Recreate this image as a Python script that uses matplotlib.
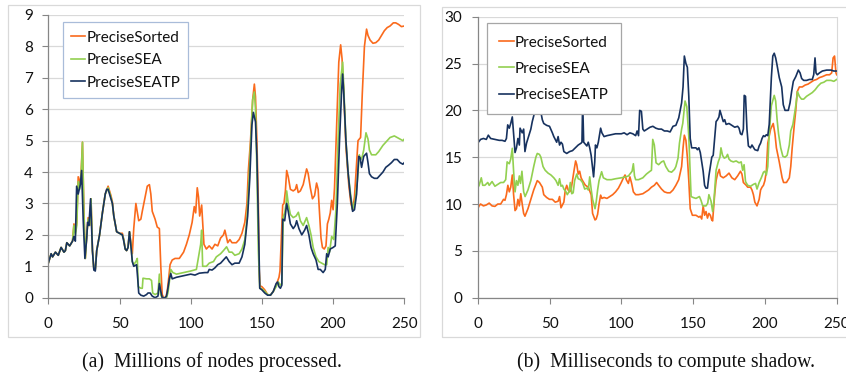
import matplotlib
matplotlib.use("Agg")
import matplotlib.pyplot as plt
from matplotlib.patches import Rectangle

# ---------------- data: left panel (millions of nodes processed) ----------------
common_x = [0, 2, 3, 5, 7, 9, 11, 12, 13, 15, 17]
common_y = [1.1, 1.4, 1.3, 1.45, 1.35, 1.6, 1.45, 1.5, 1.75, 1.65, 1.8]

a_sorted_x = [18, 19, 20, 21, 22, 23, 24, 25, 26, 27, 28, 29, 30, 31, 32, 33, 34, 36, 38, 40, 42, 44, 45, 46, 48,
              50, 52, 53, 54, 55, 56, 57, 58, 59, 60, 61.5, 63.5, 65, 66, 68, 69.5, 71, 72, 73, 75, 76.5, 78, 79,
              80, 81, 82.5, 83.5, 84.5, 85.5, 87, 89, 92, 95, 97, 99, 101, 102.5, 103.5, 104.6, 105.5, 106.3,
              107.7, 109.3, 111, 113, 115, 117, 119, 121, 123, 124, 125, 126, 127.5, 129, 132, 134, 136, 138,
              139.5, 140.5, 142, 143.5, 144.7, 145.5, 146.5, 147.5, 148, 148.6, 150, 152, 154, 156, 158, 160, 162,
              162.7, 164.6, 165.5, 166.5, 167.4, 168.5, 170, 172, 173.5, 174.4, 175.5, 177, 179, 181.4, 182.5,
              184, 185.5, 187, 188.4, 189.5, 190.5, 191.5, 192.5, 193.8, 195, 196, 197, 198, 199, 200, 201,
              202.5, 204, 205.3, 206.3, 207.5, 209, 211, 212.5, 213.7, 215, 216.5, 217.5, 218.4, 219.3, 220.5,
              222, 223.5, 224.5, 226, 228, 230, 232, 234, 236, 238, 240, 242.3, 244, 246, 248, 250]
a_sorted_y = [2.35, 2.1, 2.4, 3.85, 3.6, 3.95, 4.95, 2.8, 1.25, 2.0, 2.55, 2.3, 3.15, 1.5, 0.9, 0.9, 1.5, 2.0, 2.7,
              3.3, 3.55, 3.25, 3.05, 2.6, 2.1, 2.05, 2.05, 1.85, 1.55, 1.5, 1.6, 2.1, 1.75, 1.4, 2.2, 3.0, 2.45,
              2.5, 2.75, 3.2, 3.55, 3.6, 3.3, 2.75, 2.5, 2.25, 2.2, 1.0, 0.1, 0.0, 0.0, 0.2, 0.6, 1.05, 1.2, 1.25,
              1.25, 1.45, 1.7, 2.0, 2.4, 2.9, 2.7, 3.5, 3.2, 2.6, 2.95, 1.7, 1.55, 1.65, 1.55, 1.7, 1.65, 1.9, 2.0,
              2.15, 1.95, 1.75, 1.85, 1.75, 1.75, 1.85, 2.05, 2.4, 3.0, 4.05, 5.0, 6.3, 6.8, 6.4, 5.0, 3.0, 1.0,
              0.38, 0.35, 0.25, 0.1, 0.08, 0.2, 0.4, 0.65, 0.85, 2.95, 3.0, 3.4, 4.05, 3.85, 3.45, 3.4, 3.45, 3.6,
              3.35, 3.4, 3.6, 4.1, 3.95, 3.5, 3.15, 3.25, 3.65, 3.45, 2.7, 1.9, 1.6, 1.55, 1.65, 2.35, 2.5, 2.7,
              3.1, 2.8, 3.5, 5.5, 7.5, 8.05, 7.6, 6.5, 4.8, 3.6, 3.0, 2.8, 3.2, 4.3, 5.0, 5.05, 5.1, 6.5, 8.0,
              8.55, 8.35, 8.2, 8.1, 8.12, 8.2, 8.35, 8.5, 8.6, 8.65, 8.75, 8.75, 8.7, 8.63, 8.65]

a_sea_x = [18, 19, 20, 21, 22, 23, 24, 25, 26, 27, 28, 29, 30, 31, 32, 33, 34, 36, 38, 40, 42, 44, 45, 46, 48, 50,
           52, 53, 54, 55, 56, 57, 58, 59, 60, 61.5, 62.5, 63.2, 65, 66, 66.5, 69, 71, 72.5, 73.3, 75, 77, 78,
           78.8, 80, 83, 84, 85, 86, 87.5, 90, 95, 100, 104, 105.5, 107, 107.7, 108.4, 111, 113, 116, 118, 121,
           123, 125.2, 127, 129, 131, 134, 136, 138, 139.5, 141, 142.5, 143.5, 144.7, 145.5, 146.5, 147.5,
           148.5, 150, 152, 154, 156, 158, 160, 161.5, 163, 164, 165, 166, 167, 167.4, 168.5, 170, 172, 174,
           175.6, 177, 179, 181.4, 183, 184.5, 186, 188, 190, 192, 194, 195.5, 196.5, 197.5, 199, 200.5, 202,
           203.5, 205, 206.7, 207.5, 209, 210.5, 212, 213.7, 215.5, 217, 218.4, 219.5, 220.5, 221.5, 223.1,
           224.5, 225.5, 227, 230, 232, 235, 238, 240, 243, 245, 247, 249, 250]
a_sea_y = [2.3, 2.0, 2.3, 3.7, 3.45, 3.8, 4.95, 2.7, 1.25, 2.0, 2.5, 2.3, 3.15, 1.5, 0.9, 0.9, 1.5, 2.0, 2.7, 3.3,
           3.5, 3.2, 3.0, 2.6, 2.1, 2.05, 2.0, 1.85, 1.55, 1.5, 1.6, 2.1, 1.7, 1.15, 1.05, 1.15, 1.25, 0.35, 0.3,
           0.3, 0.62, 0.6, 0.6, 0.55, 0.15, 0.1, 0.15, 0.75, 0.1, 0.0, 0.0, 0.15, 0.5, 0.9, 0.8, 0.75, 0.8, 0.85,
           0.9, 1.3, 1.7, 2.15, 1.0, 1.0, 1.1, 1.15, 1.3, 1.4, 1.5, 1.62, 1.45, 1.45, 1.35, 1.4, 1.55, 1.85, 2.5,
           3.8, 5.3, 6.3, 6.55, 6.0, 4.0, 1.5, 0.3, 0.28, 0.2, 0.1, 0.08, 0.2, 0.35, 0.5, 0.4, 0.45, 2.58, 2.7,
           3.0, 3.4, 3.0, 2.65, 2.55, 2.6, 2.72, 2.45, 2.3, 2.55, 2.3, 2.0, 1.6, 1.3, 1.15, 1.1, 1.05, 1.05, 1.6,
           1.45, 1.95, 1.85, 2.8, 5.0, 6.8, 7.5, 6.7, 5.0, 4.0, 3.4, 2.8, 3.1, 3.7, 4.55, 4.4, 4.5, 4.7, 5.25,
           5.05, 4.7, 4.55, 4.55, 4.65, 4.85, 5.0, 5.1, 5.15, 5.1, 5.05, 5.0, 5.05]

a_seatp_x = [18, 19, 19.9, 21, 22.5, 23.4, 24.5, 25.7, 27, 27.6, 28.5, 29.7, 31, 32, 33, 34, 36, 38, 40, 41, 42,
             44, 45, 46, 48, 50, 52, 53, 54, 55, 56, 57, 58, 59, 60, 62, 62.8, 63.5, 65, 67, 69, 70, 71.5, 73,
             75, 77, 78, 79, 80, 82, 83, 84, 85, 86, 87, 90, 95, 100, 103, 106, 110, 112, 113, 115, 117, 119, 121,
             123, 125, 127, 129, 131, 134, 136, 138, 140, 141.5, 143, 144, 145.5, 146.5, 147.5, 148.5, 150, 152,
             154, 156, 158, 160, 161, 162, 163, 164, 164.6, 166, 167.4, 168.5, 170, 172, 173.5, 174.4, 176, 178,
             180, 181.4, 183, 184.5, 186, 188, 189.5, 191, 193, 194.5, 195.5, 196.5, 198, 200, 201.5, 203, 204.5,
             206, 206.7, 207.5, 209, 210.5, 212, 213.7, 215, 216.5, 218, 219, 220, 221.5, 223.5, 224.5, 225.5,
             227, 229, 231, 233, 235, 237, 239, 241, 243, 245, 247, 249, 250]
a_seatp_y = [1.95, 1.8, 3.55, 3.3, 3.6, 4.05, 2.5, 1.25, 1.9, 2.4, 2.3, 3.15, 1.5, 0.88, 0.85, 1.5, 2.0, 2.7, 3.3,
             3.45, 3.45, 3.15, 3.0, 2.6, 2.1, 2.05, 2.0, 1.8, 1.55, 1.5, 1.6, 2.1, 1.65, 1.15, 1.0, 1.05, 0.6, 0.15,
             0.08, 0.05, 0.1, 0.15, 0.15, 0.05, 0.0, 0.05, 0.45, 0.2, 0.0, 0.0, 0.05, 0.3, 0.6, 0.77, 0.6, 0.65,
             0.7, 0.75, 0.72, 0.78, 0.8, 0.8, 0.9, 0.88, 0.95, 1.05, 1.1, 1.2, 1.3, 1.15, 1.05, 1.1, 1.1, 1.3, 1.7,
             2.6, 3.8, 5.5, 5.9, 5.6, 4.5, 2.5, 0.3, 0.25, 0.15, 0.08, 0.08, 0.2, 0.45, 0.5, 0.35, 0.3, 0.4, 2.5,
             2.45, 3.0, 2.75, 2.35, 2.2, 2.3, 2.45, 2.2, 2.0, 2.15, 2.3, 2.0, 1.6, 1.4, 1.2, 0.9, 0.9, 0.8, 0.9,
             1.4, 1.3, 1.55, 1.6, 1.65, 3.0, 5.0, 6.6, 7.12, 6.5, 5.0, 4.0, 3.3, 2.75, 2.8, 3.3, 4.5, 4.45, 4.15,
             4.5, 4.6, 4.3, 3.95, 3.85, 3.8, 3.8, 3.9, 4.0, 4.15, 4.22, 4.3, 4.4, 4.4, 4.3, 4.25, 4.3]

# ---------------- data: right panel (milliseconds to compute shadow) ----------------
b_sorted_x = [0, 1, 2, 4, 6, 8, 10, 12, 14, 16, 18, 19, 20, 21, 22, 23, 24.1, 25, 26, 27, 28, 29, 30, 31, 32, 32.9,
              35, 37, 39, 41.5, 43, 45, 46, 48, 50, 52, 54, 56, 57, 58, 60, 61, 62, 63, 64, 65, 66, 67, 68.2, 69,
              70, 71, 72, 73, 75, 77, 79, 80, 81.7, 82.5, 83.5, 84.5, 85.6, 86.5, 88, 90, 92, 94, 96, 98, 100,
              101.5, 102.6, 103.5, 104.9, 106, 107.2, 108.4, 110, 112, 115, 117, 119, 121, 123, 124.6, 126, 128,
              130, 132, 134, 136, 138, 140, 142, 143, 143.9, 145, 146, 147, 148, 149.5, 152, 154, 155, 156, 157,
              158, 159, 160, 161, 162, 163, 163.6, 165, 166, 167, 168.2, 169, 171, 173, 175, 177, 179, 181, 183,
              184, 185, 187, 188, 190, 191, 192, 193, 194.5, 196, 197, 198, 199, 200, 201, 202, 204, 205.8, 207,
              208, 210, 212, 213, 215, 217, 218, 219, 220.5, 221.5, 222.5, 224, 226, 228, 230, 232, 234, 236,
              238, 240, 243, 245, 246.5, 247.5, 248.5, 249.5, 250]
b_sorted_y = [9.5, 9.8, 10.0, 9.8, 9.9, 10.1, 9.8, 9.75, 10.0, 10.0, 10.5, 10.4, 11.0, 12.0, 11.3, 11.8, 13.1, 11.0,
              9.3, 9.5, 10.5, 9.8, 11.1, 10.0, 9.0, 8.7, 9.5, 10.5, 11.5, 12.5, 12.3, 11.8, 11.0, 10.7, 10.5, 10.5,
              10.2, 10.3, 10.8, 9.6, 10.2, 11.5, 12.0, 11.5, 11.3, 11.5, 12.5, 13.5, 14.6, 14.2, 13.2, 13.5, 12.8,
              12.5, 12.0, 11.8, 11.0, 9.0, 8.3, 8.4, 8.9, 10.0, 10.95, 10.6, 10.7, 10.6, 10.8, 11.0, 11.3, 11.7,
              12.3, 12.8, 13.1, 12.6, 12.2, 12.9, 12.2, 11.3, 11.0, 11.0, 11.1, 11.3, 11.5, 11.8, 12.0, 12.3, 12.0,
              11.6, 11.3, 11.2, 11.2, 11.5, 12.0, 12.6, 14.0, 16.0, 17.35, 16.8, 15.0, 12.5, 9.5, 8.8, 8.8, 8.6,
              8.7, 8.4, 9.8, 8.8, 9.2, 8.5, 9.0, 8.8, 8.3, 8.2, 11.0, 12.5, 13.2, 13.7, 13.0, 12.8, 13.0, 13.3,
              12.8, 12.6, 13.0, 13.5, 13.2, 12.3, 12.0, 11.8, 11.8, 11.5, 11.0, 10.2, 9.8, 10.5, 11.5, 11.8, 12.0,
              12.5, 13.5, 16.5, 18.0, 18.6, 17.5, 16.0, 14.5, 12.8, 12.3, 12.3, 12.8, 14.0, 16.0, 18.5, 20.0, 22.0,
              22.5, 22.5, 22.7, 22.8, 23.0, 23.2, 23.3, 23.5, 23.6, 23.8, 23.8, 24.0, 25.6, 25.8, 24.0, 23.8]

b_sea_x = [0, 1, 2.5, 3.5, 5, 7, 8, 10, 12, 14, 16, 18, 19.5, 20.5, 22, 23, 24.1, 25, 26, 27, 28, 29, 29.8, 30.8,
           32, 33, 35, 37, 39, 40.5, 41.5, 43, 44, 45.5, 47, 49, 51, 53, 54.5, 56, 57, 58, 59, 60, 61.5, 62.4,
           63.5, 64.5, 65.5, 66.5, 67.5, 69, 70, 71.5, 73, 74.5, 76, 77, 78, 79, 80, 81.7, 82.5, 83.5, 84.5,
           86.3, 87.5, 90, 93, 96, 100, 103, 105, 106.5, 107.5, 108.4, 109.2, 110, 112, 115, 117.5, 120, 121,
           121.9, 123, 124.2, 126, 128, 129.5, 131, 133, 135, 137, 138, 139.5, 140.5, 142, 142.8, 144.4, 145.6,
           147, 148.6, 150, 152, 154.4, 155.5, 156.7, 159, 160.2, 161, 162.5, 163.6, 164.5, 166, 167.5, 168.7,
           169.4, 170.5, 171.7, 173, 174, 175, 176.3, 178, 180, 182, 183.5, 184.5, 185.5, 186.5, 188, 190, 192,
           193.5, 194.5, 196, 197.5, 199, 200, 201, 202, 203, 204.5, 206.5, 207.5, 208.5, 209.5, 211, 212.5,
           214, 215.5, 217, 218, 219.5, 220.5, 221.5, 222.7, 224, 225.5, 227, 229, 231, 233, 235, 237, 239, 241,
           243, 246, 248, 250]
b_sea_y = [11.7, 12.0, 12.8, 12.0, 12.0, 12.3, 12.0, 12.4, 11.9, 12.1, 12.3, 12.3, 12.6, 14.5, 14.3, 14.8, 15.95,
           13.5, 11.3, 12.5, 12.0, 13.0, 12.2, 13.5, 11.3, 10.8, 11.5, 12.5, 14.0, 15.0, 15.4, 15.3, 15.0, 14.0,
           13.6, 13.3, 13.1, 12.8, 12.5, 12.0, 12.7, 11.9, 12.0, 11.6, 11.3, 11.0, 11.3, 12.3, 11.1, 11.2, 12.5,
           13.2, 12.7, 12.6, 12.3, 11.6, 11.7, 11.5, 12.9, 11.6, 10.5, 9.5, 10.2, 11.5, 12.5, 13.45, 12.8, 12.6,
           12.6, 12.7, 12.8, 12.9, 13.0, 13.3, 13.5, 14.3, 13.0, 12.6, 12.6, 12.8, 13.2, 13.5, 13.6, 16.9, 16.3,
           14.4, 14.2, 14.5, 14.6, 14.0, 13.5, 13.4, 13.7, 14.0, 14.9, 16.5, 18.0, 18.6, 21.0, 20.4, 17.2, 10.8,
           10.7, 10.6, 10.8, 10.4, 9.8, 9.8, 10.1, 11.0, 10.3, 9.2, 10.3, 13.6, 14.5, 15.0, 16.0, 15.2, 14.9,
           15.0, 15.3, 14.8, 14.6, 14.5, 14.6, 14.4, 14.5, 13.6, 14.2, 12.4, 12.0, 11.9, 12.1, 12.2, 11.6, 12.3,
           12.8, 13.4, 13.5, 13.1, 14.0, 17.5, 20.5, 21.6, 21.0, 19.0, 17.5, 16.0, 15.1, 15.0, 15.2, 16.3, 17.8,
           18.5, 19.5, 20.5, 22.0, 21.5, 21.2, 21.2, 21.5, 21.7, 21.9, 22.2, 22.6, 22.9, 23.0, 23.2, 23.2, 23.1,
           23.3]

b_seatp_x = [0, 2, 4, 6, 7.4, 9, 12, 15, 17, 19, 20, 20.9, 22, 23, 24.1, 25, 26, 27, 28, 29, 29.5, 31, 32, 32.9,
             34, 35, 37, 38, 40, 41, 43, 44, 45, 46, 48, 50, 52, 53, 55, 56, 57, 58, 59, 60, 62, 64, 66, 68, 70,
             72, 72.6, 73.1, 73.8, 76, 77, 78, 79, 80.7, 81.5, 82, 83, 84, 85.6, 86.5, 88, 90, 93, 96, 100, 102,
             104, 106, 108, 110, 111, 112, 112.8, 114, 115, 116, 118, 120, 122, 124, 126, 128, 130, 132, 134, 136,
             138, 140, 142, 143, 143.9, 145, 146, 147, 148, 149, 150, 152, 153, 154, 155, 156, 157, 158, 158.9,
             160, 161, 162, 163, 164, 165, 166, 167, 168, 168.7, 170, 171, 172, 173, 175, 177, 179, 181, 182, 183,
             184, 185, 185.6, 186.5, 187.5, 188.5, 190, 191, 193, 195, 196, 197, 198, 199, 200, 201, 202, 203,
             204.5, 205.5, 206.5, 207.5, 208.5, 210, 211.7, 212.8, 214, 216.3, 217.5, 218.6, 219.8, 221.5, 223.3,
             224.5, 225.6, 227, 229, 231, 233, 234, 234.9, 235.6, 236.5, 238, 240, 243, 246, 248, 250]
b_seatp_y = [16.5, 16.9, 17.0, 16.9, 17.35, 17.0, 16.9, 16.8, 16.8, 16.7, 17.0, 18.45, 18.1, 18.6, 19.3, 17.5, 15.5,
             16.0, 17.0, 16.3, 18.1, 17.6, 18.0, 15.6, 16.5, 17.0, 18.0, 18.8, 20.0, 20.45, 20.2, 19.8, 19.0, 18.6,
             18.4, 18.3, 17.6, 17.2, 16.6, 17.2, 16.3, 16.6, 16.4, 15.6, 15.4, 15.6, 15.7, 16.0, 16.3, 16.5, 16.6,
             21.0, 16.6, 16.2, 16.6, 16.0, 15.2, 12.9, 14.5, 16.3, 16.0, 16.6, 18.1, 17.6, 17.2, 17.3, 17.4, 17.5,
             17.5, 17.6, 17.4, 17.6, 17.5, 17.3, 17.8, 17.3, 20.0, 19.9, 18.0, 17.8, 18.0, 18.2, 18.3, 18.1, 18.0,
             18.0, 17.8, 17.8, 17.7, 18.3, 18.4, 19.2, 20.8, 22.5, 25.8, 25.0, 24.6, 21.5, 17.0, 16.0, 16.0, 16.0,
             15.8, 16.0, 15.5, 14.5, 13.5, 12.0, 11.7, 11.7, 13.0, 14.0, 15.0, 15.2, 17.0, 18.8, 19.0, 19.3, 20.0,
             19.3, 18.8, 19.0, 18.5, 18.6, 18.4, 18.2, 18.3, 18.1, 17.5, 17.4, 18.0, 21.6, 21.5, 18.0, 16.2, 16.0,
             16.3, 15.8, 15.7, 16.2, 16.5, 17.0, 17.3, 17.2, 17.4, 17.3, 18.5, 23.5, 25.8, 26.1, 25.6, 24.8, 23.5,
             22.5, 20.6, 20.0, 20.0, 20.8, 22.0, 23.1, 23.6, 24.3, 24.0, 23.4, 23.2, 23.2, 23.3, 23.3, 23.8, 25.6,
             24.0, 23.8, 24.0, 24.2, 24.3, 24.3, 24.2, 24.2]

series_names = ["PreciseSorted", "PreciseSEA", "PreciseSEATP"]
left_yticks = list(range(0, 10))
right_yticks = [0, 5, 10, 15, 20, 25, 30]
xticks = [0, 50, 100, 150, 200, 250]
captions = ["(a)  Millions of nodes processed.", "(b)  Milliseconds to compute shadow."]

# ---------------- styling ----------------
COL_SORTED = "#fa6a1c"
COL_SEA = "#92d050"
COL_SEATP = "#17325f"
GRID = "#d9d9d9"
AXIS = "#868686"
TICKFONT = "Lato"

W, H = 846, 378
fig = plt.figure(figsize=(W / 100, H / 100), dpi=100)


def fx(px):
    return px / W


def fy(py):
    return 1 - py / H


# panel frames
fig.add_artist(Rectangle((fx(8), fy(337)), fx(420) - fx(8), fy(5) - fy(337),
                         transform=fig.transFigure, fill=False, edgecolor=GRID, lw=0.9))
fig.add_artist(Rectangle((fx(441.7), fy(336.7)), fx(860) - fx(441.7), fy(6.7) - fy(336.7),
                         transform=fig.transFigure, fill=False, edgecolor=GRID, lw=0.9))

axL = fig.add_axes([fx(48.3), fy(297.7), fx(404.3) - fx(48.3), fy(15) - fy(297.7)])
axR = fig.add_axes([fx(477.7), fy(297.7), fx(836.7) - fx(477.7), fy(16.7) - fy(297.7)])


def style(ax, ymax, yticks):
    ax.set_xlim(0, 250)
    ax.set_ylim(0, ymax)
    ax.set_xticks(xticks)
    ax.set_yticks(yticks)
    ax.grid(axis="y", color=GRID, lw=0.9)
    ax.set_axisbelow(True)
    for s in ["top", "right"]:
        ax.spines[s].set_visible(False)
    for s in ["left", "bottom"]:
        ax.spines[s].set_color(AXIS)
        ax.spines[s].set_linewidth(0.9)
    ax.tick_params(axis="x", direction="out", length=4, width=0.8, color=AXIS, pad=10,
                   labelsize=11, labelcolor="#111111")
    ax.tick_params(axis="y", direction="out", length=4, width=0.8, color=AXIS, pad=7,
                   labelsize=11, labelcolor="#111111")
    for lab in ax.get_xticklabels() + ax.get_yticklabels():
        lab.set_family(TICKFONT)


def draw(ax, sx, sy, ex, ey, tx, ty):
    ax.plot(sx, sy, color=COL_SORTED, lw=1.2, label=series_names[0])
    ax.plot(ex, ey, color=COL_SEA, lw=1.2, label=series_names[1])
    ax.plot(tx, ty, color=COL_SEATP, lw=1.2, label=series_names[2])


draw(axL, common_x + a_sorted_x, common_y + a_sorted_y,
     common_x + a_sea_x, common_y + a_sea_y,
     common_x + a_seatp_x, common_y + a_seatp_y)
draw(axR, b_sorted_x, b_sorted_y, b_sea_x, b_sea_y, b_seatp_x, b_seatp_y)

style(axL, 9, left_yticks)
style(axR, 30, right_yticks)
axR.spines["right"].set_visible(True)
axR.spines["right"].set_color(GRID)

legL = axL.legend(loc="upper left", bbox_to_anchor=(0.040, 0.974), borderaxespad=0,
                  prop={"family": TICKFONT, "size": 11}, handlelength=0.95, handletextpad=0.05,
                  labelspacing=0.55, borderpad=0.55, fancybox=False, framealpha=1,
                  edgecolor="#a9bcd9")
legL.get_frame().set_linewidth(0.9)
legR = axR.legend(loc="upper left", bbox_to_anchor=(0.026, 0.9765), borderaxespad=0,
                  prop={"family": TICKFONT, "size": 11}, handlelength=0.95, handletextpad=0.05,
                  labelspacing=0.8, borderpad=0.8, fancybox=False, framealpha=1,
                  edgecolor="#a6a6a6")
legR.get_frame().set_linewidth(0.9)
for leg in (legL, legR):
    for t in leg.get_texts():
        t.set_color("#111111")

fig.text(fx(212.3), fy(367.5), captions[0], ha="center", va="baseline",
         family="Liberation Serif", fontsize=14.2, color="#111111")
fig.text(fx(666), fy(367.5), captions[1], ha="center", va="baseline",
         family="Liberation Serif", fontsize=14.2, color="#111111")

fig.savefig("out.png", dpi=100)
